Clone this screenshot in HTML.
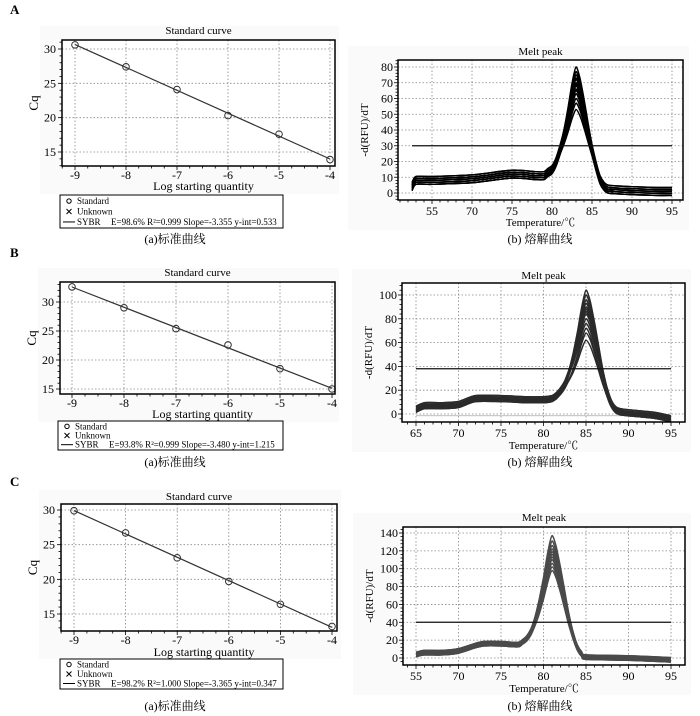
<!DOCTYPE html>
<html><head><meta charset="utf-8">
<style>
html,body{margin:0;padding:0;background:#fff;}
svg{display:block;font-family:"Liberation Serif","Noto Serif CJK SC",serif;}
</style></head>
<body>
<svg id="fig" width="700" height="716" viewBox="0 0 700 716" xmlns="http://www.w3.org/2000/svg"></svg>
<script>
// ---------- Standard curve data ----------
const stdX = [-9, -8, -7, -6, -5, -4];
const stdCqA = [30.6, 27.4, 24.1, 20.3, 17.6, 13.9];
const stdCqB = [32.6, 29.0, 25.4, 22.6, 18.5, 15.0];
const stdCqC = [29.9, 26.7, 23.1, 19.7, 16.4, 13.2];
const stdYTicks = [15, 20, 25, 30];
const stdLegendA = "E=98.6% R\u00b2=0.999 Slope=-3.355 y-int=0.533";
const stdLegendB = "E=93.8% R\u00b2=0.999 Slope=-3.480 y-int=1.215";
const stdLegendC = "E=98.2% R\u00b2=1.000 Slope=-3.365 y-int=0.347";

// ---------- Melt peak data ----------
const meltTempA = [62.5, 63, 65, 70, 75, 78, 79, 79.5, 80, 80.5, 81, 81.5, 82, 82.5, 83, 83.5, 84, 84.5, 85, 85.5, 86, 86.5, 87, 88, 90, 93, 95];
const meltBaseA = [4, 8, 8, 9, 12, 11, 11, 12, 12, 13, 14, 14, 14, 13, 12, 11, 10, 9, 8, 6, 4, 3, 2.5, 2, 1.5, 1, 1];
const meltFracA = [0, 0, 0, 0, 0, 0, 0, 0.02, 0.05, 0.12, 0.25, 0.42, 0.62, 0.85, 1, 0.9, 0.72, 0.52, 0.33, 0.18, 0.07, 0.02, 0, 0, 0, 0, 0];
const meltPeaksA = [80, 77, 75, 73, 72, 70, 69, 68, 66, 65, 63, 60, 57, 53];
const meltThreshA = 30;
const meltYTicksA = [0, 10, 20, 30, 40, 50, 60, 70, 80];
const meltXLabelsA = ["55", "70", "75", "80", "85", "90", "95"];

const meltTempB = [65, 66, 68, 70, 72, 75, 78, 80, 81, 81.5, 82, 82.5, 83, 83.5, 84, 84.5, 85, 85.5, 86, 86.5, 87, 87.5, 88, 88.5, 89, 90, 93, 95];
const meltBaseB = [4, 7, 7, 8, 13, 13, 12, 12, 13, 14, 16, 17, 17, 16, 15, 14, 13, 12, 10, 8, 6, 4, 3, 2, 2, 1, -1, -4];
const meltFracB = [0, 0, 0, 0, 0, 0, 0, 0, 0, 0.02, 0.05, 0.12, 0.25, 0.42, 0.62, 0.85, 1, 0.9, 0.72, 0.52, 0.33, 0.18, 0.07, 0.02, 0, 0, 0, 0];
const meltPeaksB = [104, 100, 96, 93, 90, 88, 86, 84, 80, 76, 72, 68, 62];
const meltThreshB = 38;
const meltYTicksB = [0, 20, 40, 60, 80, 100];
const meltXLabelsB = ["65", "70", "75", "80", "85", "90", "95"];

const meltTempC = [65, 66, 68, 70, 72, 73, 75, 77, 77.5, 78, 78.5, 79, 79.5, 80, 80.5, 81, 81.5, 82, 82.5, 83, 83.5, 84, 84.5, 85, 90, 95];
const meltBaseC = [4, 6, 6, 8, 14, 16, 16, 15, 16, 17, 18, 18, 17, 16, 15, 14, 13, 12, 10, 8, 6, 4, 2, 1, 0, -2];
const meltFracC = [0, 0, 0, 0, 0, 0, 0, 0, 0.02, 0.05, 0.12, 0.25, 0.42, 0.62, 0.85, 1, 0.9, 0.72, 0.52, 0.33, 0.18, 0.07, 0.02, 0, 0, 0];
const meltPeaksC = [137, 131, 126, 122, 119, 116, 113, 110, 106, 102, 98];
const meltThreshC = 40;
const meltYTicksC = [0, 20, 40, 60, 80, 100, 120, 140];
const meltXLabelsC = ["55", "70", "75", "80", "85", "90", "95"];
const meltOffsets = [-2.5, -1.2, 0, 1.2, 2.5];

const NS = "http://www.w3.org/2000/svg";
const svg = document.getElementById("fig");
function mk(tag, attrs, parent, text) {
  const e = document.createElementNS(NS, tag);
  for (const k in attrs) e.setAttribute(k, attrs[k]);
  if (text !== undefined) e.textContent = text;
  (parent || svg).appendChild(e);
  return e;
}
function lin(d0, d1, p0, p1) { return v => p0 + (v - d0) * (p1 - p0) / (d1 - d0); }
function smoothPath(p) {
  let d = "M" + p[0][0].toFixed(1) + "," + p[0][1].toFixed(1);
  for (let i = 0; i < p.length - 1; i++) {
    const p0 = p[i - 1] || p[i], p1 = p[i], p2 = p[i + 1], p3 = p[i + 2] || p2;
    const c1x = p1[0] + (p2[0] - p0[0]) / 8, c1y = p1[1] + (p2[1] - p0[1]) / 8;
    const c2x = p2[0] - (p3[0] - p1[0]) / 8, c2y = p2[1] - (p3[1] - p1[1]) / 8;
    d += `C${c1x.toFixed(1)},${c1y.toFixed(1)} ${c2x.toFixed(1)},${c2y.toFixed(1)} ${p2[0].toFixed(1)},${p2[1].toFixed(1)}`;
  }
  return d;
}

function panelLabel(t, x, y) {
  const e = mk("text", {x: x, y: y, "font-size": 13, "font-weight": "bold"}, svg, t);
  
  
}
function caption(t, cx, y, nm) {
  const e = mk("text", {x: cx, y: y, "font-size": 12, "text-anchor": "middle"}, svg, t);
  
  
}

function stdChart(id, cfg, cq, legendText) {
  const g = mk("g", {});
  
  
  const [fx0, fy0, fx1, fy1] = cfg.frame;
  const sx = lin(-9, -4, cfg.xpx[0], cfg.xpx[1]);
  const sy = lin(30, 15, cfg.ypx[0], cfg.ypx[1]);
  mk("rect", {x: fx0 - 22, y: fy0 - 14, width: fx1 - fx0 + 26, height: fy1 - fy0 + 42, fill: "#fafafa"}, g);
  mk("rect", {x: fx0, y: fy0, width: fx1 - fx0, height: fy1 - fy0, fill: "#fff"}, g);
  stdX.forEach(v => mk("line", {x1: sx(v), x2: sx(v), y1: fy0, y2: fy1, stroke: "#888", "stroke-width": 0.8, "stroke-dasharray": "1.5,2"}, g));
  stdYTicks.forEach(v => mk("line", {x1: fx0, x2: fx1, y1: sy(v), y2: sy(v), stroke: "#888", "stroke-width": 0.8, "stroke-dasharray": "1.5,2"}, g));
  for (let v = -9.25; v <= -3.75; v += 0.25) {
    const x = sx(v); if (x < fx0 || x > fx1) continue;
    const big = Math.abs(v - Math.round(v)) < 1e-6;
    mk("line", {x1: x, x2: x, y1: fy1, y2: fy1 + (big ? 4 : 2.5), stroke: "#000", "stroke-width": 0.8}, g);
  }
  for (let v = 10; v <= 35; v += 1) {
    const y = sy(v); if (y < fy0 || y > fy1) continue;
    const big = v % 5 === 0;
    mk("line", {x1: fx0 - (big ? 4 : 2.5), x2: fx0, y1: y, y2: y, stroke: "#000", "stroke-width": 0.8}, g);
  }
  stdX.forEach(v => {
    const t = mk("text", {x: sx(v), y: fy1 + 13, "font-size": 12, "text-anchor": "middle"}, g, String(v));
    
    
  });
  stdYTicks.forEach(v => {
    const t = mk("text", {x: fx0 - 6, y: sy(v) + 4, "font-size": 12, "text-anchor": "end"}, g, String(v));
    
    
  });
  const n = stdX.length;
  const mx = stdX.reduce((a, b) => a + b, 0) / n, my = cq.reduce((a, b) => a + b, 0) / n;
  let num = 0, den = 0;
  for (let i = 0; i < n; i++) { num += (stdX[i] - mx) * (cq[i] - my); den += (stdX[i] - mx) ** 2; }
  const slope = num / den, icpt = my - slope * mx;
  const fl = mk("line", {x1: sx(-9), y1: sy(slope * -9 + icpt), x2: sx(-4), y2: sy(slope * -4 + icpt), stroke: "#333", "stroke-width": 1.2}, g);
  
  
  stdX.forEach((v, i) => {
    const c = mk("circle", {cx: sx(v), cy: sy(cq[i]), r: 3.3, fill: "none", stroke: "#333", "stroke-width": 1}, g);
    
    
  });
  mk("rect", {x: fx0, y: fy0, width: fx1 - fx0, height: fy1 - fy0, fill: "none", stroke: "#000", "stroke-width": 1.5}, g);
  const ti = mk("text", {x: (fx0 + fx1) / 2, y: cfg.titleY, "font-size": 11, "text-anchor": "middle"}, g, "Standard curve");
  
  
  const xl = mk("text", {x: (fx0 + fx1) / 2 + 5, y: cfg.xlabY, "font-size": 12, "text-anchor": "middle"}, g, "Log starting quantity");
  
  
  const yl = mk("text", {x: 0, y: 0, "font-size": 13, "text-anchor": "middle", transform: `translate(${fx0 - 24},${(fy0 + fy1) / 2}) rotate(-90)`}, g, "Cq");
  
  
  const [lx0, ly0, lx1, ly1] = cfg.legend;
  const lg = mk("g", {}, g);
  
  
  mk("rect", {x: lx0, y: ly0, width: lx1 - lx0, height: ly1 - ly0, fill: "#fff", stroke: "#000", "stroke-width": 1}, lg);
  const rh = (ly1 - ly0) / 3;
  mk("circle", {cx: lx0 + 9, cy: ly0 + rh * 0.55, r: 2.2, fill: "none", stroke: "#000", "stroke-width": 1}, lg);
  mk("text", {x: lx0 + 17, y: ly0 + rh * 0.55 + 3, "font-size": 9}, lg, "Standard");
  const cy2 = ly0 + rh * 1.5;
  mk("path", {d: `M${lx0 + 6.5},${cy2 - 2.5}L${lx0 + 11.5},${cy2 + 2.5}M${lx0 + 11.5},${cy2 - 2.5}L${lx0 + 6.5},${cy2 + 2.5}`, stroke: "#000", "stroke-width": 1}, lg);
  mk("text", {x: lx0 + 17, y: cy2 + 3, "font-size": 9}, lg, "Unknown");
  const cy3 = ly0 + rh * 2.45;
  mk("line", {x1: lx0 + 3, x2: lx0 + 15, y1: cy3, y2: cy3, stroke: "#000", "stroke-width": 1}, lg);
  mk("text", {x: lx0 + 17, y: cy3 + 3, "font-size": 9}, lg, "SYBR");
  mk("text", {x: lx0 + 51, y: cy3 + 3, "font-size": 9}, lg, legendText);
}

function meltChart(id, cfg, temps, base, frac, peaks, thresh, yTicks, xLabels, color) {
  const g = mk("g", {});
  
  
  const [fx0, fy0, fx1, fy1] = cfg.frame;
  const sx = lin(65, 95, cfg.xpx[0], cfg.xpx[1]);
  const sy = lin(0, cfg.ypx[2], cfg.ypx[0], cfg.ypx[1]);
  mk("rect", {x: fx0 - 50, y: fy0 - 14, width: fx1 - fx0 + 56, height: fy1 - fy0 + 44, fill: "#fafafa"}, g);
  mk("rect", {x: fx0, y: fy0, width: fx1 - fx0, height: fy1 - fy0, fill: "#fff"}, g);
  const xt = [65, 70, 75, 80, 85, 90, 95];
  xt.forEach(v => mk("line", {x1: sx(v), x2: sx(v), y1: fy0, y2: fy1, stroke: "#888", "stroke-width": 0.8, "stroke-dasharray": "1.5,2"}, g));
  yTicks.forEach(v => mk("line", {x1: fx0, x2: fx1, y1: sy(v), y2: sy(v), stroke: "#888", "stroke-width": 0.8, "stroke-dasharray": "1.5,2"}, g));
  for (let v = 60; v <= 98; v++) {
    const x = sx(v); if (x < fx0 || x > fx1) continue;
    mk("line", {x1: x, x2: x, y1: fy1, y2: fy1 + (v % 5 === 0 ? 4 : 2.5), stroke: "#000", "stroke-width": 0.8}, g);
  }
  const step = (yTicks[1] - yTicks[0]) / 5;
  for (let v = -2 * step * 5; v <= yTicks[yTicks.length - 1] + 5 * step; v += step) {
    const y = sy(v); if (y < fy0 || y > fy1) continue;
    const big = Math.abs(v / (step * 5) - Math.round(v / (step * 5))) < 1e-6;
    mk("line", {x1: fx0 - (big ? 4 : 2.5), x2: fx0, y1: y, y2: y, stroke: "#000", "stroke-width": 0.8}, g);
  }
  xt.forEach((v, i) => {
    const t = mk("text", {x: sx(v), y: fy1 + 15, "font-size": 12, "text-anchor": "middle"}, g, xLabels[i]);
    
    
  });
  yTicks.forEach(v => {
    const t = mk("text", {x: fx0 - 5, y: sy(v) + 4, "font-size": 12, "text-anchor": "end"}, g, String(v));
    
    
  });
  if (cfg.ghost) {
    const gl = mk("polyline", {points: temps.map(t => sx(t) + "," + sy(-1.5)).join(" "), fill: "none", stroke: "#aaa", "stroke-width": 0.8}, g);
    
    
  }
  peaks.forEach((h, k) => {
    const off = meltOffsets[k % meltOffsets.length];
    const pts = temps.map((t, i) => [sx(t), sy((base[i] + off) * (1 - frac[i]) + frac[i] * h)]);
    const pl = mk("path", {d: smoothPath(pts), fill: "none", stroke: color, "stroke-width": 1.5, "stroke-linejoin": "round"}, g);
    
    
  });
  const th = mk("line", {x1: sx(temps[0]), x2: sx(95), y1: sy(thresh), y2: sy(thresh), stroke: "#111", "stroke-width": 1.3}, g);
  
  
  mk("rect", {x: fx0, y: fy0, width: fx1 - fx0, height: fy1 - fy0, fill: "none", stroke: "#000", "stroke-width": 1.5}, g);
  const ti = mk("text", {x: (fx0 + fx1) / 2, y: cfg.titleY, "font-size": 11, "text-anchor": "middle"}, g, "Melt peak");
  
  
  const xl = mk("text", {x: (fx0 + fx1) / 2, y: cfg.xlabY, "font-size": 11, "text-anchor": "middle"}, g, "Temperature/\u2103");
  
  
  const yl = mk("text", {x: 0, y: 0, "font-size": 11, "text-anchor": "middle", transform: `translate(${fx0 - 30},${(fy0 + fy1) / 2}) rotate(-90)`}, g, "-d(RFU)/dT");
  
  
}

panelLabel("A", 10, 14);
panelLabel("B", 10, 257);
panelLabel("C", 10, 486);

stdChart("a", {frame: [62, 40, 335, 166], xpx: [75, 330], ypx: [49, 152], titleY: 34, xlabY: 190, legend: [60, 195, 283, 228]}, stdCqA, stdLegendA);
stdChart("b", {frame: [60, 282, 335, 394], xpx: [72, 332], ypx: [302, 389], titleY: 276, xlabY: 418, legend: [58, 421, 283, 450]}, stdCqB, stdLegendB);
stdChart("c", {frame: [61, 504, 337, 631], xpx: [74, 332], ypx: [510, 614], titleY: 500, xlabY: 656, legend: [60, 659, 283, 689]}, stdCqC, stdLegendC);

meltChart("a", {frame: [398, 60, 683, 200], xpx: [432, 672], ypx: [193, 67, 80], titleY: 55, xlabY: 226}, meltTempA, meltBaseA, meltFracA, meltPeaksA, meltThreshA, meltYTicksA, meltXLabelsA, "#000");
meltChart("b", {frame: [402, 283, 685, 422], xpx: [416, 671], ypx: [414, 295, 100], titleY: 279, xlabY: 449, ghost: true}, meltTempB, meltBaseB, meltFracB, meltPeaksB, meltThreshB, meltYTicksB, meltXLabelsB, "#2a2a2a");
meltChart("c", {frame: [403, 527, 685, 665], xpx: [416, 671], ypx: [658, 533, 140], titleY: 521, xlabY: 692}, meltTempC, meltBaseC, meltFracC, meltPeaksC, meltThreshC, meltYTicksC, meltXLabelsC, "#4a4a4a");

caption("(a)\u6807\u51c6\u66f2\u7ebf", 175, 243, "caption-a-standard");
caption("(b) \u7194\u89e3\u66f2\u7ebf", 540, 243, "caption-a-melt");
caption("(a)\u6807\u51c6\u66f2\u7ebf", 175, 466, "caption-b-standard");
caption("(b) \u7194\u89e3\u66f2\u7ebf", 540, 466, "caption-b-melt");
caption("(a)\u6807\u51c6\u66f2\u7ebf", 175, 710, "caption-c-standard");
caption("(b) \u7194\u89e3\u66f2\u7ebf", 540, 710, "caption-c-melt");
</script>
</body></html>
